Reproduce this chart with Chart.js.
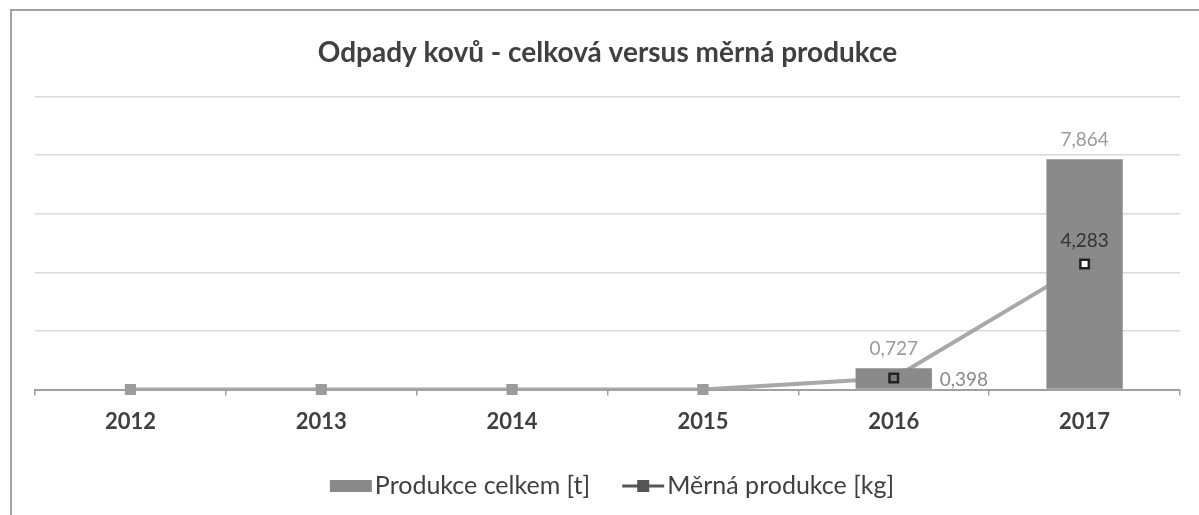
<!DOCTYPE html>
<html>
<head>
<meta charset="utf-8">
<script src="https://cdn.jsdelivr.net/npm/chart.js@4/dist/chart.umd.min.js"></script>
<style>
  html, body { margin: 0; padding: 0; background: #fff; }
  #wrap { position: relative; width: 1199px; height: 515px; }
  #frame { position: absolute; left: 10px; top: 9px; right: 0; bottom: 0;
           border-left: 2px solid #a3a3a3; border-top: 2px solid #a3a3a3; }
  canvas { position: absolute; left: 0; top: 0; }
</style>
</head>
<body>
<div id="wrap">
  <div id="frame"></div>
  <canvas id="chart" width="1199" height="515"></canvas>
</div>
<script>
// data
const years = ['2012', '2013', '2014', '2015', '2016', '2017'];
const totalProduction = [0, 0, 0, 0, 0.727, 7.864];     // Produkce celkem [t]
const specificProduction = [0, 0, 0, 0, 0.398, 4.283];  // Měrná produkce [kg]
const yRange = [0, 10];
const yStep = 2;

const FONT = 'Lato, "Open Sans", sans-serif';

function fmt(v) { return v.toFixed(3).replace('.', ','); }

// bodovy styl: prvni ctyri body sede, 2016 tmavy, 2017 bily s cernym okrajem
function pointFill(ctx) {
  if (ctx.dataIndex < 4) return '#9c9c9c';
  return ctx.dataIndex === 4 ? '#7a7a7a' : '#ffffff';
}
function pointEdge(ctx) {
  return ctx.dataIndex < 4 ? '#9c9c9c' : '#222222';
}

// body cary kreslime jeste jednou, aby byly nad sloupci
const pointsOnTop = {
  id: 'pointsOnTop',
  afterDatasetsDraw(chart) {
    const meta = chart.getDatasetMeta(1);
    meta.data.forEach(p => p.draw(chart.ctx, chart.chartArea));
  }
};

// popisky hodnot (bez datalabels pluginu)
const valueLabels = {
  id: 'valueLabels',
  afterDatasetsDraw(chart) {
    const ctx = chart.ctx;
    ctx.save();
    ctx.font = '19px ' + FONT;
    const bars = chart.getDatasetMeta(0).data;
    bars.forEach((el, i) => {
      const v = totalProduction[i];
      if (!v) return;
      ctx.fillStyle = '#9a9a9a';
      ctx.textAlign = 'center';
      ctx.textBaseline = 'bottom';
      ctx.fillText(fmt(v), el.x, el.y - 10);
    });
    const pts = chart.getDatasetMeta(1).data;
    pts.forEach((el, i) => {
      const v = specificProduction[i];
      if (!v) return;
      if (i === pts.length - 1) {
        ctx.fillStyle = '#333333';
        ctx.textAlign = 'center';
        ctx.textBaseline = 'bottom';
        ctx.fillText(fmt(v), el.x, el.y - 14);
      } else {
        ctx.fillStyle = '#8a8a8a';
        ctx.textAlign = 'left';
        ctx.textBaseline = 'middle';
        ctx.fillText(fmt(v), el.x + 46, el.y + 2);
      }
    });
    ctx.restore();
  }
};

// legenda dole: sloupec + cara se ctvereckem
const bottomLegend = {
  id: 'bottomLegend',
  afterDraw(chart) {
    const ctx = chart.ctx;
    const ds = chart.data.datasets;
    const y = 486;
    ctx.save();
    ctx.font = '25px ' + FONT;
    ctx.textBaseline = 'middle';
    ctx.textAlign = 'left';
    const w1 = ctx.measureText(ds[0].label).width;
    const w2 = ctx.measureText(ds[1].label).width;
    const sym = 42, gap = 3, between = 32;
    const total = sym + gap + w1 + between + sym + gap + w2;
    let x = 612 - total / 2;
    ctx.fillStyle = ds[0].backgroundColor;
    ctx.fillRect(x, y - 6, sym, 12);
    ctx.fillStyle = '#404040';
    ctx.fillText(ds[0].label, x + sym + gap, y);
    x += sym + gap + w1 + between;
    ctx.strokeStyle = '#555555';
    ctx.lineWidth = 3;
    ctx.beginPath();
    ctx.moveTo(x, y);
    ctx.lineTo(x + sym, y);
    ctx.stroke();
    ctx.fillStyle = '#555555';
    ctx.fillRect(x + sym / 2 - 6, y - 6, 12, 12);
    ctx.fillStyle = '#404040';
    ctx.fillText(ds[1].label, x + sym + gap, y);
    ctx.restore();
  }
};

new Chart(document.getElementById('chart'), {
  type: 'bar',
  data: {
    labels: years,
    datasets: [{
      type: 'bar',
      label: 'Produkce celkem [t]',
      data: totalProduction,
      backgroundColor: '#8a8a8a',
      barPercentage: 0.4,
      categoryPercentage: 1,
      order: 0
    }, {
      type: 'line',
      label: 'Měrná produkce [kg]',
      data: specificProduction,
      borderColor: '#a8a8a8',
      borderWidth: 4,
      tension: 0,
      pointStyle: 'rect',
      pointRadius: 6,
      pointBorderWidth: 2.5,
      pointBackgroundColor: pointFill,
      pointBorderColor: pointEdge,
      order: 1
    }]
  },
  options: {
    responsive: false,
    animation: false,
    layout: { padding: { left: 35, right: 19, top: 0, bottom: 67 } },
    plugins: {
      legend: { display: false },
      tooltip: { enabled: false },
      title: {
        display: true,
        text: 'Odpady kovů - celková versus měrná produkce',
        color: '#404040',
        font: { family: FONT, size: 28, weight: 'bold' },
        padding: { top: 36, bottom: 27 }
      }
    },
    scales: {
      x: {
        grid: { display: true, drawOnChartArea: false, drawTicks: true, tickLength: 6, color: '#a0a0a0', lineWidth: 1.5 },
        border: { display: true, color: '#a0a0a0', width: 2 },
        ticks: { color: '#404040', font: { family: FONT, size: 22, weight: 'bold' }, padding: 13 }
      },
      y: {
        min: yRange[0],
        max: yRange[1],
        ticks: { display: false, stepSize: yStep },
        grid: { color: '#d9d9d9', lineWidth: 1.5, drawTicks: false },
        border: { display: false }
      }
    }
  },
  plugins: [pointsOnTop, valueLabels, bottomLegend]
});
</script>
</body>
</html>
